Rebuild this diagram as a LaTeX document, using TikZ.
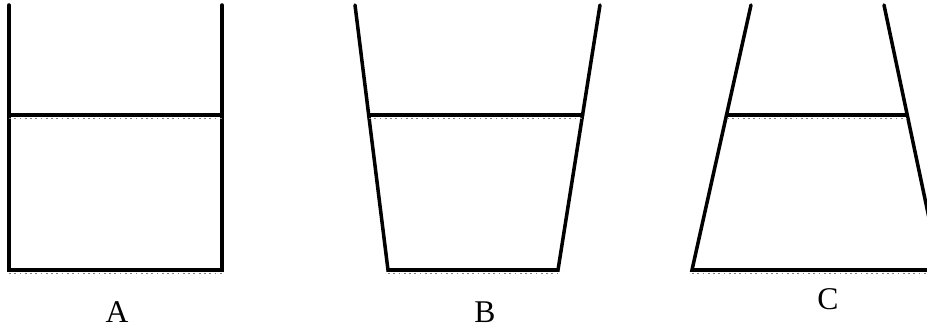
\documentclass[tikz,border=0pt]{standalone}
\usepackage{fontspec}
\setmainfont{Liberation Serif}
\usetikzlibrary{calc}

\tikzset{
  wall/.style={black,line width=2pt,line cap=round,line join=miter},
  shade/.style={gray,line width=1pt,dotted},
  letter/.style={font=\fontsize{18}{21}\selectfont,inner sep=0pt}
}

\begin{document}
\begin{tikzpicture}[x=0.02cm,y=-0.02cm]

  % Frame
  \useasboundingbox (0,0) rectangle (927,327);
  \clip (0,0) rectangle (927,327);

  % Vessel A
  \draw[wall] (9,5) -- (9,270) -- (222,270) -- (222,5);
  \draw[shade] (9,118.5) -- (222,118.5);
  \draw[shade] (9,273.5) -- (222,273.5);
  \draw[wall] (9,115) -- (222,115);

  % Vessel B
  \draw[wall] (355,5) -- (388,270) -- (558,270) -- (600,5);
  \draw[shade] (369,118.5) -- (582,118.5);
  \draw[shade] (388,273.5) -- (558,273.5);
  \draw[wall] ($(355,5)!0.415!(388,270)$) -- ($(600,5)!0.415!(558,270)$);

  % Vessel C
  \draw[wall] (751,5) -- (692,270) -- (940,270) -- (884,5);
  \draw[shade] (727,118.5) -- (907,118.5);
  \draw[shade] (692,273.5) -- (927,273.5);
  \draw[wall] ($(751,5)!0.415!(692,270)$) -- ($(884,5)!0.415!(940,270)$);

  % Labels
  \node[letter] (labA) at (117,312) {A};
  \node[letter] (labB) at (485,312) {B};
  \node[letter] (labC) at (828,299) {C};

\end{tikzpicture}
\end{document}
